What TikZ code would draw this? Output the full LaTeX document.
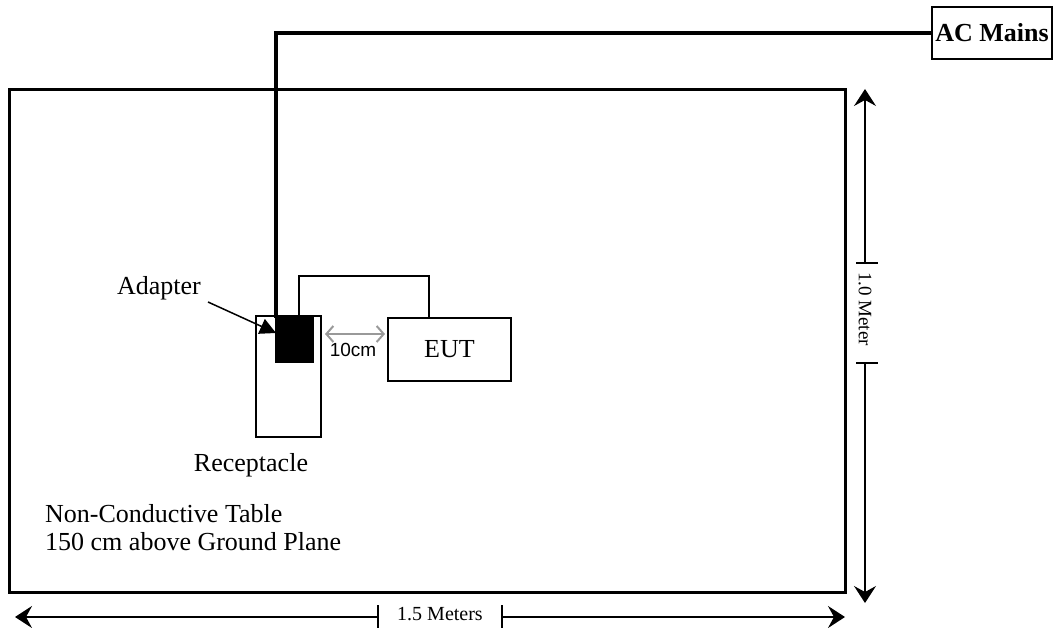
\documentclass[tikz,border=0pt]{standalone}
\usepackage{fontspec}
\setmainfont{Liberation Serif}
\newfontfamily\arialfont{Liberation Sans}
\usetikzlibrary{arrows.meta}
\tikzset{
  tablebox/.style={draw, line width=3pt},
  plainbox/.style={draw, line width=2pt, inner sep=0pt},
  cable/.style={line width=3.5pt},
  thincable/.style={line width=2pt},
  label/.style={font=\fontsize{26}{28}\selectfont, inner sep=0pt},
  dimtip/.tip={Stealth[inset=6pt,length=17pt,width=22pt]},
}
\begin{document}
\begin{tikzpicture}[x=1pt,y=-1pt]
\useasboundingbox (0,0) rectangle (1060,628);
% table
\draw[tablebox] (9,90) rectangle (845,592);
% AC mains
\node[plainbox, minimum width=120pt, minimum height=52pt, font=\fontsize{26}{28}\selectfont\bfseries] (ac) at (992,33) {AC Mains};
% receptacle
\node[plainbox, minimum width=65pt, minimum height=121pt] (rec) at (288.5,376.5) {};
% adapter
\node[fill=black, draw=black, minimum width=38pt, minimum height=46pt, inner sep=0pt] (adp) at (294,339) {};
% EUT
\node[plainbox, minimum width=123pt, minimum height=63pt, font=\fontsize{26}{28}\selectfont] (eut) at (449.5,349.5) {EUT};
% mains cable
\coordinate (corner) at (276,33);
\draw[cable] (ac.west) -- (corner) -- (276,318);
% EUT cable
\draw[thincable] (299,316) -- (299,276) -- (429,276) -- (429,318);
% 10 cm
\coordinate (g1) at (325,334);
\coordinate (g2) at (385,334);
\draw[gray!80, line width=2pt, {Straight Barb[length=7pt,width=16pt]}-{Straight Barb[length=7pt,width=16pt]}] (g1) -- (g2);
\node[font=\arialfont\fontsize{19}{22}\selectfont, inner sep=0pt] (tencm) at (353,350) {10cm};
% labels
\node[label] (adlab) at (159,288) {Adapter};
\coordinate (adtip) at (276,333);
\draw[line width=1.5pt, -{Triangle[length=16pt,width=16pt]}] (208,302) -- (adtip);
\node[label] (reclab) at (251,465) {Receptacle};
\node[label, align=left, anchor=north west] (tablab) at (45,504) {Non-Conductive Table\\150 cm above Ground Plane};
% vertical dimension
\coordinate (vt) at (865,89);
\coordinate (vb) at (865,603);
\coordinate (vt1) at (865,263);
\coordinate (vb1) at (865,363);
\draw[line width=1.3pt, dimtip-] (vt) -- (vt1);
\draw[line width=1.3pt, -dimtip] (vb1) -- (vb);
\draw[line width=1.5pt] (856,263) -- (878,263);
\draw[line width=1.5pt] (856,363) -- (878,363);
\node[font=\fontsize{19}{22}\selectfont, rotate=-90, inner sep=0pt] (vlab) at (865,309) {1.0 Meter};
% horizontal dimension
\coordinate (hl) at (15,617);
\coordinate (hr) at (845,617);
\coordinate (hl1) at (378,617);
\coordinate (hr1) at (502,617);
\draw[line width=2pt, dimtip-] (hl) -- (hl1);
\draw[line width=2pt, -dimtip] (hr1) -- (hr);
\draw[line width=1.5pt] (378,605) -- (378,630);
\draw[line width=1.5pt] (502,605) -- (502,630);
\node[font=\fontsize{20}{22}\selectfont, inner sep=0pt] (hlab) at (440,614) {1.5 Meters};
\end{tikzpicture}
\end{document}
